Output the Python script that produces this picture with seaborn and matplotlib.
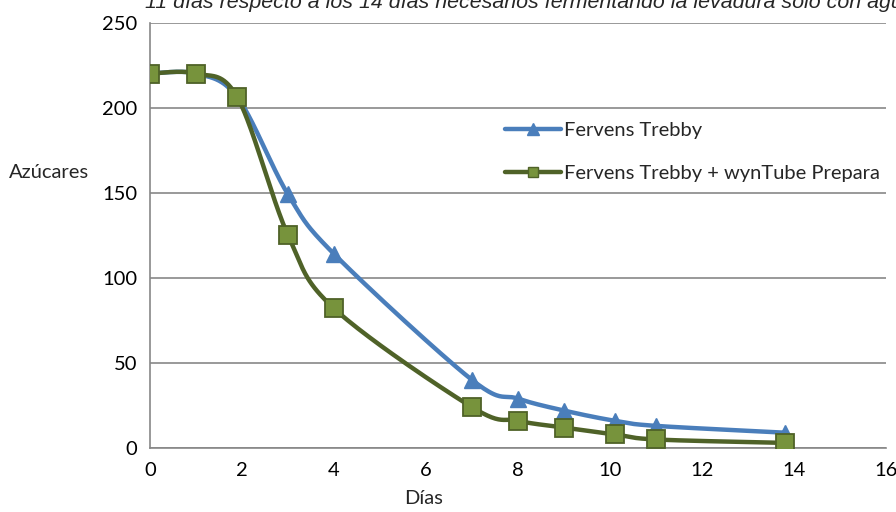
import numpy as np
import pandas as pd
import seaborn as sns
import matplotlib.pyplot as plt
from matplotlib.lines import Line2D

# Data
dias = [0, 1, 1.9, 3, 4, 7, 8, 9, 10.1, 11, 13.8]
trebby = [220, 220, 206, 149, 114, 40, 29, 22, 16, 13, 9]
trebby_wyntube = [220, 220, 206, 125, 82, 24, 16, 12, 8, 5, 3]
label_trebby = "Fervens Trebby"
label_wyntube = "Fervens Trebby + wynTube Prepara"
titulo = "11 días respecto a los 14 días necesarios fermentando la levadura sólo con agua"
x_ticks = [0, 2, 4, 6, 8, 10, 12, 14, 16]
y_ticks = [0, 50, 100, 150, 200, 250]

BLUE = "#4A7EBB"
GREEN_LINE = "#4F6228"
GREEN_FILL = "#77933C"
GRID = "#878787"
FS = 14.5


def smooth(xs, ys, n=40):
    # Excel-style smoothed line (Bezier through the points)
    p = np.column_stack([xs, ys]).astype(float)
    p = np.vstack([p[0], p, p[-1]])
    out = []
    t = np.linspace(0, 1, n)[:, None]
    for i in range(1, len(p) - 2):
        p0, p1 = p[i], p[i + 1]
        c1 = p0 + (p[i + 1] - p[i - 1]) / 6
        c2 = p1 - (p[i + 2] - p[i]) / 6
        seg = ((1 - t) ** 3) * p0 + 3 * ((1 - t) ** 2) * t * c1 + 3 * (1 - t) * t ** 2 * c2 + t ** 3 * p1
        out.append(seg)
    out = np.vstack(out)
    return pd.DataFrame({"x": out[:, 0], "y": out[:, 1]})


sns.set_style("white")
plt.rcParams['font.family'] = ['Lato', 'DejaVu Sans']

fig = plt.figure(figsize=(8.96, 5.12), dpi=100)
ax = fig.add_axes([150 / 896, 1 - 448 / 512, 736 / 896, 425.5 / 512])

c1 = smooth(dias, trebby)
c2 = smooth(dias, trebby_wyntube)
sns.lineplot(data=c1, x="x", y="y", sort=False, color=BLUE, linewidth=3.2, ax=ax, zorder=3)
ax.plot(dias, trebby, linestyle="none", marker="^", markersize=12, color=BLUE, zorder=4)
sns.lineplot(data=c2, x="x", y="y", sort=False, color=GREEN_LINE, linewidth=3.2, ax=ax, zorder=5)
ax.plot(dias, trebby_wyntube, linestyle="none", marker="s", markersize=13,
        markerfacecolor=GREEN_FILL, markeredgecolor=GREEN_LINE, markeredgewidth=1.3, zorder=6)

ax.set_xlim(0, 16)
ax.set_ylim(0, 250)
ax.set_xticks(x_ticks)
ax.set_yticks(y_ticks)
ax.tick_params(axis="both", direction="out", length=5, width=1, color=GRID,
               labelsize=FS, labelcolor="black", pad=4)
ax.tick_params(axis="x", pad=5)
ax.yaxis.grid(True, color=GRID, linewidth=1.2)
ax.xaxis.grid(False)
for s in ["top", "right"]:
    ax.spines[s].set_visible(False)
for s in ["left", "bottom"]:
    ax.spines[s].set_color(GRID)
    ax.spines[s].set_linewidth(1.2)
ax.set_xlabel("")
ax.set_ylabel("")

fig.text(9 / 896, 1 - 172 / 512, "Azúcares", fontsize=FS, ha="left", va="center")
fig.text(424 / 896, 1 - 499 / 512, "Días", fontsize=FS, ha="center", va="center")
fig.text(145 / 896, 1 - 7.5 / 512, titulo, fontsize=15.4, style="italic",
         family=["Liberation Sans", "DejaVu Sans"], ha="left", va="baseline")

handles = [
    Line2D([0], [0], color=BLUE, linewidth=3.2, marker="^", markersize=8),
    Line2D([0], [0], color=GREEN_LINE, linewidth=3.2, marker="s", markersize=7,
           markerfacecolor=GREEN_FILL, markeredgecolor=GREEN_LINE),
]
ax.legend(handles, [label_trebby, label_wyntube], loc="upper left",
          bbox_to_anchor=(355 / 736, (448 - 122) / 425.5), frameon=False, fontsize=FS,
          handlelength=2.8, handletextpad=0.15, labelspacing=1.3, borderaxespad=0,
          borderpad=0)

fig.savefig("out.png", dpi=100)
